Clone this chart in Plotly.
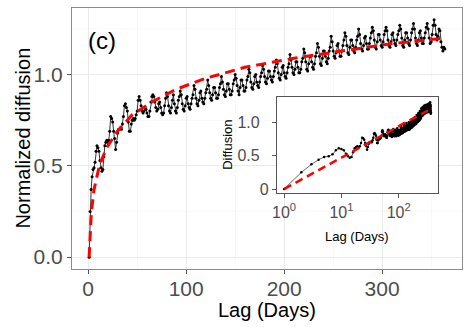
import plotly.graph_objects as go

# ---------------- data ----------------
lag_days = list(range(1, 365))
diffusion = [
    0.00, 0.25, 0.37, 0.44, 0.48, 0.49, 0.52, 0.58, 0.61, 0.60,
    0.58, 0.53, 0.49, 0.47, 0.48, 0.55, 0.61, 0.63, 0.64, 0.63,
    0.64, 0.69, 0.77, 0.76, 0.74, 0.69, 0.65, 0.59, 0.63, 0.68,
    0.70, 0.70, 0.71, 0.70, 0.73, 0.77, 0.83, 0.84, 0.82, 0.80,
    0.74, 0.69, 0.69, 0.73, 0.75, 0.76, 0.75, 0.76, 0.78, 0.80,
    0.86, 0.88, 0.86, 0.83, 0.80, 0.79, 0.80, 0.82, 0.81, 0.79,
    0.77, 0.77, 0.80, 0.85, 0.88, 0.89, 0.88, 0.85, 0.82, 0.80,
    0.81, 0.84, 0.85, 0.82, 0.79, 0.78, 0.79, 0.83, 0.87, 0.90,
    0.88, 0.83, 0.80, 0.79, 0.82, 0.86, 0.89, 0.84, 0.80, 0.79,
    0.82, 0.86, 0.88, 0.91, 0.89, 0.84, 0.81, 0.80, 0.83, 0.87,
    0.88, 0.84, 0.82, 0.81, 0.84, 0.87, 0.89, 0.94, 0.92, 0.87,
    0.84, 0.83, 0.86, 0.90, 0.91, 0.87, 0.85, 0.84, 0.87, 0.90,
    0.92, 0.97, 0.94, 0.90, 0.87, 0.86, 0.89, 0.93, 0.93, 0.90,
    0.87, 0.87, 0.89, 0.93, 0.95, 0.99, 0.96, 0.92, 0.89, 0.88,
    0.91, 0.95, 0.95, 0.92, 0.89, 0.89, 0.91, 0.95, 0.97, 1.00,
    0.98, 0.94, 0.91, 0.89, 0.93, 0.97, 0.97, 0.94, 0.91, 0.91,
    0.93, 0.97, 0.99, 1.03, 1.01, 0.96, 0.93, 0.92, 0.95, 0.99,
    1.00, 0.96, 0.94, 0.93, 0.96, 0.99, 1.01, 1.05, 1.03, 0.99,
    0.96, 0.95, 0.98, 1.02, 1.02, 0.99, 0.97, 0.96, 0.99, 1.02,
    1.04, 1.08, 1.06, 1.01, 0.98, 0.97, 1.00, 1.04, 1.05, 1.01,
    0.99, 0.98, 1.01, 1.04, 1.06, 1.11, 1.08, 1.04, 1.01, 1.00,
    1.03, 1.07, 1.07, 1.04, 1.01, 1.01, 1.03, 1.07, 1.09, 1.14,
    1.12, 1.07, 1.03, 1.02, 1.06, 1.10, 1.10, 1.07, 1.04, 1.03,
    1.06, 1.10, 1.12, 1.17, 1.15, 1.10, 1.06, 1.05, 1.09, 1.13,
    1.13, 1.10, 1.07, 1.06, 1.09, 1.13, 1.15, 1.21, 1.18, 1.13,
    1.10, 1.09, 1.12, 1.16, 1.17, 1.13, 1.10, 1.10, 1.13, 1.16,
    1.19, 1.23, 1.21, 1.16, 1.12, 1.11, 1.15, 1.19, 1.19, 1.16,
    1.13, 1.12, 1.15, 1.19, 1.21, 1.25, 1.22, 1.17, 1.14, 1.13,
    1.16, 1.20, 1.21, 1.17, 1.14, 1.14, 1.17, 1.20, 1.23, 1.26,
    1.24, 1.19, 1.15, 1.14, 1.18, 1.22, 1.22, 1.19, 1.16, 1.15,
    1.18, 1.22, 1.24, 1.26, 1.24, 1.19, 1.16, 1.15, 1.18, 1.22,
    1.23, 1.19, 1.17, 1.16, 1.19, 1.22, 1.24, 1.27, 1.25, 1.20,
    1.16, 1.15, 1.19, 1.23, 1.23, 1.20, 1.17, 1.16, 1.19, 1.23,
    1.25, 1.28, 1.25, 1.20, 1.17, 1.16, 1.19, 1.23, 1.24, 1.20,
    1.17, 1.17, 1.20, 1.23, 1.26, 1.28, 1.25, 1.20, 1.17, 1.18,
    1.22, 1.27, 1.30, 1.27, 1.22, 1.19, 1.21, 1.25, 1.24, 1.18,
    1.15, 1.13, 1.15, 1.14,
]
fit_lag = [1, 2, 3, 4, 6, 8, 11, 15, 20, 30, 45, 65, 90, 120, 160, 210, 260, 310, 364]
fit_value = [0.00, 0.14, 0.22, 0.28, 0.37, 0.42, 0.49, 0.55, 0.61, 0.69, 0.78,
             0.85, 0.92, 0.98, 1.04, 1.09, 1.13, 1.17, 1.20]

main_x_ticks = [0, 100, 200, 300]
main_x_labels = ["0", "100", "200", "300"]
main_y_ticks = [0.0, 0.5, 1.0]
main_y_labels = ["0.0", "0.5", "1.0"]
inset_x_ticks = [1, 10, 100]
inset_x_labels = ["10<sup>0</sup>", "10<sup>1</sup>", "10<sup>2</sup>"]
inset_y_ticks = [0.0, 0.5, 1.0]
inset_y_labels = ["0", "0.5\u2007", "1.0\u2007"]

FONT = "Liberation Sans, Arial, sans-serif"
TICK_COL = "#4D4D4D"
BORDER = "#8C8C8C"

fig = go.Figure()

# main panel
fig.add_trace(go.Scatter(
    x=lag_days, y=diffusion, mode="lines+markers",
    line=dict(color="black", width=0.8),
    marker=dict(color="black", size=3),
    showlegend=False, hoverinfo="skip"))
fig.add_trace(go.Scatter(
    x=fit_lag, y=fit_value, mode="lines",
    line=dict(color="#FF0000", width=3, dash="10px,6px"),
    showlegend=False, hoverinfo="skip"))

# inset panel
fig.add_trace(go.Scatter(
    x=lag_days, y=diffusion, mode="lines+markers",
    xaxis="x2", yaxis="y2",
    line=dict(color="black", width=0.6),
    marker=dict(color="black", size=2.5),
    showlegend=False, hoverinfo="skip"))
fig.add_trace(go.Scatter(
    x=fit_lag, y=fit_value, mode="lines",
    xaxis="x2", yaxis="y2",
    line=dict(color="#FF0000", width=2.5, dash="8px,5px"),
    showlegend=False, hoverinfo="skip"))

fig.update_layout(
    width=472, height=327,
    margin=dict(l=72, r=10, t=8, b=58, autoexpand=False),
    paper_bgcolor="white", plot_bgcolor="white",
    font=dict(family=FONT, color="black"),
    xaxis=dict(
        domain=[0, 1], range=[-16.5, 381.5], automargin=False,
        tickmode="array", tickvals=main_x_ticks, ticktext=main_x_labels,
        tickfont=dict(size=21, color=TICK_COL, family=FONT),
        ticks="outside", ticklen=4, tickcolor="#555555", tickwidth=1,
        ticklabelstandoff=-3,
        showline=True, mirror=True, linecolor=BORDER, linewidth=1,
        showgrid=True, gridcolor="#EBEBEB", gridwidth=1, zeroline=False,
        minor=dict(tickmode="linear", tick0=0, dtick=50, showgrid=True,
                   gridcolor="#F4F4F4", gridwidth=0.6, ticks=""),
    ),
    yaxis=dict(
        domain=[0, 1], range=[-0.065, 1.365], automargin=False,
        tickmode="array", tickvals=main_y_ticks, ticktext=main_y_labels,
        tickfont=dict(size=21, color=TICK_COL, family=FONT),
        ticks="outside", ticklen=4, tickcolor="#555555", tickwidth=1,
        showline=True, mirror=True, linecolor=BORDER, linewidth=1,
        showgrid=True, gridcolor="#EBEBEB", gridwidth=1, zeroline=False,
        minor=dict(tickmode="linear", tick0=0, dtick=0.25, showgrid=True,
                   gridcolor="#F4F4F4", gridwidth=0.6, ticks=""),
    ),
    xaxis2=dict(
        type="log", domain=[0.525, 0.939], anchor="y2", range=[-0.128, 2.689],
        automargin=False,
        tickmode="array", tickvals=inset_x_ticks, ticktext=inset_x_labels,
        tickfont=dict(size=16, color=TICK_COL, family=FONT),
        ticks="outside", ticklen=4, tickcolor="#555555", tickwidth=1,
        showline=True, mirror=True, linecolor="#555555", linewidth=1,
        showgrid=False, zeroline=False,
    ),
    yaxis2=dict(
        domain=[0.290, 0.660], anchor="x2", range=[-0.064, 1.384],
        automargin=False,
        tickmode="array", tickvals=inset_y_ticks, ticktext=inset_y_labels,
        tickfont=dict(size=16, color=TICK_COL, family=FONT),
        ticks="outside", ticklen=4, tickcolor="#555555", tickwidth=1,
        showline=True, mirror=True, linecolor="#555555", linewidth=1,
        showgrid=False, zeroline=False,
    ),
    shapes=[dict(
        type="rect", xref="x2", yref="y2",
        x0=10 ** -0.128, x1=10 ** 2.689, y0=-0.064, y1=1.384,
        fillcolor="white", line=dict(width=0), layer="below")],
    annotations=[
        dict(text="(c)", xref="paper", yref="paper", x=0.036, y=0.874,
             xanchor="left", yanchor="middle", showarrow=False,
             font=dict(size=24, color="black", family=FONT)),
        dict(text="Lag (Days)", xref="paper", yref="paper", x=0.5, y=-0.157,
             xanchor="center", yanchor="middle", showarrow=False,
             font=dict(size=20, color="black", family=FONT)),
        dict(text="Normalized diffusion", xref="paper", yref="paper", x=-0.128, y=0.5,
             xanchor="center", yanchor="middle", showarrow=False, textangle=-90,
             font=dict(size=20, color="black", family=FONT)),
        dict(text="Lag (Days)", xref="paper", yref="paper", x=0.732, y=0.123,
             xanchor="center", yanchor="middle", showarrow=False,
             font=dict(size=13, color="black", family=FONT)),
        dict(text="Diffusion", xref="paper", yref="paper", x=0.397, y=0.475,
             xanchor="center", yanchor="middle", showarrow=False, textangle=-90,
             font=dict(size=13, color="black", family=FONT)),
    ],
)

# remove the browser's default 8px page margin so the figure sits at the page origin
fig.write_html("out.html", config={"displayModeBar": False, "staticPlot": True},
               post_script="document.body.style.margin='0';")
